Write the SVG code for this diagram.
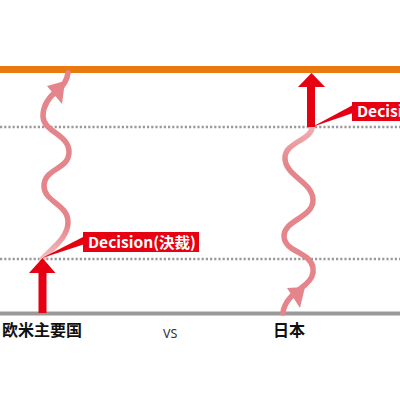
<svg xmlns="http://www.w3.org/2000/svg" width="400" height="400" viewBox="0 0 400 400">
<style>
.wave{fill:none;stroke-width:5.5;stroke-linecap:round}
.dot{stroke:#9a9a9a;stroke-width:2.5;stroke-dasharray:2.2 2}
.red{fill:#e60012}
.lbl{font-family:"Noto Sans CJK JP","Liberation Sans",sans-serif;font-weight:bold;fill:#fff;font-size:15px}
.cap{font-family:"Noto Sans CJK JP","Liberation Sans",sans-serif;font-weight:bold;fill:#111;font-size:16px}
</style>
<defs>
<linearGradient id="gL" gradientUnits="userSpaceOnUse" x1="0" y1="259" x2="0" y2="225">
<stop offset="0" stop-color="#f4c0c2"/><stop offset="1" stop-color="#e5848a"/>
</linearGradient>
<linearGradient id="gR" gradientUnits="userSpaceOnUse" x1="0" y1="127" x2="0" y2="165">
<stop offset="0" stop-color="#f0b0b3"/><stop offset="1" stop-color="#e5848a"/>
</linearGradient>
</defs>
<rect width="400" height="400" fill="#fff"/>
<g id="lines">
<line x1="0" y1="69.5" x2="400" y2="69.5" stroke="#e87a10" stroke-width="7"/>
<line class="dot" x1="0" y1="127" x2="400" y2="127"/>
<line class="dot" x1="0" y1="259" x2="400" y2="259"/>
<line x1="0" y1="313.5" x2="400" y2="313.5" stroke="#999" stroke-width="4"/>
</g>
<g id="connectors">
<path class="wave" stroke="url(#gL)" d="M42,259 C52,248 68,238 68,222 C68,204 44,202 44,186 C44,168 69,170 69,152 C69,134 43,132 43,116 C43,104 50,96 58,90 C63,86 67,80 68,73"/>
<polygon fill="#e5848a" points="47,86 65,81 62,104"/>
<path class="wave" stroke="url(#gR)" d="M283,313 C284,300 296,292 305,285 C311,280 314,274 313,268 C311,252 284,252 284,236 C284,220 313,218 313,200 C313,182 285,176 285,158 C285,142 312,140 312,127"/>
<polygon fill="#e5848a" points="287,288 305,287 300,308"/>
<polygon class="red" points="38.5,313 46.5,313 46.5,273 55.5,273 42.5,258 29,273 38.5,273"/>
<polygon class="red" points="307,127 315,127 315,87 325,87 311.5,73 298,87 307,87"/>
</g>
<g id="label-left">
<polygon class="red" points="42,258 85,236 85,244"/>
<rect class="red" x="83" y="232" width="116" height="20"/>
<text class="lbl" x="88" y="247.5" textLength="108" lengthAdjust="spacingAndGlyphs">Decision(決裁)</text>
</g>
<g id="label-right">
<polygon class="red" points="312,127 353,105 353,113"/>
<rect class="red" x="352" y="102" width="116" height="19"/>
<text class="lbl" x="357" y="117" textLength="108" lengthAdjust="spacingAndGlyphs">Decision(決裁)</text>
</g>
<g id="captions">
<text class="cap" x="2" y="336">欧米主要国</text>
<text x="163" y="338" font-family="'Noto Sans','Liberation Sans',sans-serif" font-size="12.5" fill="#333">VS</text>
<text class="cap" x="273" y="336">日本</text>
</g>
</svg>
